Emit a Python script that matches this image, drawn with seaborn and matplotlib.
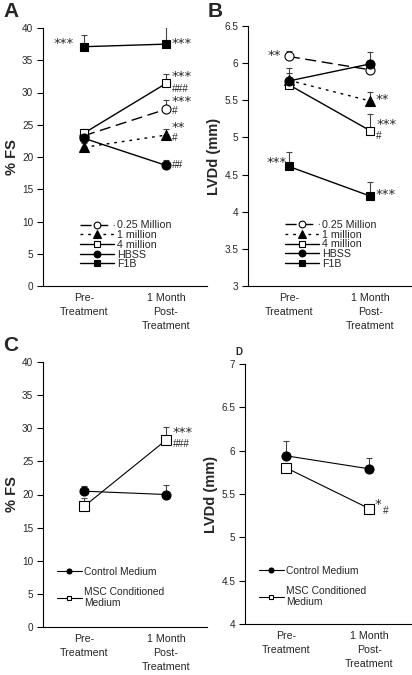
import matplotlib
matplotlib.use("Agg")
import matplotlib.pyplot as plt
import seaborn as sns
import numpy as np

sns.set_style("white")
plt.rcParams['font.family'] = ['Liberation Sans', 'DejaVu Sans']

# ---------------- data ----------------
timepoints = ["Pre-\nTreatment", "1 Month\nPost-\nTreatment"]

# Panel A (% FS)
a_series = ["0.25 Million", "1 million", "4 million", "HBSS", "F1B"]
a_q25 = [23.3, 27.4]
a_q25_err = [0.8, 1.5]
a_m1 = [21.5, 23.4]
a_m1_err = [0.6, 0.9]
a_m4 = [23.7, 31.4]
a_m4_err = [0.7, 1.5]
a_hbss = [22.9, 18.7]
a_hbss_err = [0.6, 0.9]
a_f1b = [37.1, 37.5]
a_f1b_err = [1.8, 2.6]
# (text, point index, value, dx px, dy px)
a_ann = [("***", 0, 37.1, -10, 3), ("***", 1, 37.5, 6, 1),
         ("***", 1, 31.4, 6, 6.5), ("###", 1, 31.4, 6, -5.5),
         ("***", 1, 27.4, 6, 8), ("#", 1, 27.4, 6, -2),
         ("**", 1, 23.4, 6, 8), ("#", 1, 23.4, 6, -3),
         ("##", 1, 18.7, 6, 0)]

# Panel B (LVDd mm)
b_q25 = [6.09, 5.91]
b_q25_err = [0.07, 0.05]
b_m1 = [5.77, 5.49]
b_m1_err = [0.1, 0.12]
b_m4 = [5.71, 5.09]
b_m4_err = [0.08, 0.22]
b_hbss = [5.76, 5.99]
b_hbss_err = [0.17, 0.16]
b_f1b = [4.61, 4.21]
b_f1b_err = [0.19, 0.19]
b_ann = [("**", 0, 6.09, -8, 1), ("**", 1, 5.49, 5, 2),
         ("***", 1, 5.09, 6, 6), ("#", 1, 5.09, 6, -5),
         ("***", 0, 4.61, -2, 4), ("***", 1, 4.21, 5, 2)]

# Panel C (% FS)
c_series = ["Control Medium", "MSC Conditioned\nMedium"]
c_ctrl = [20.5, 20.0]
c_ctrl_err = [0.8, 1.4]
c_msc = [18.2, 28.2]
c_msc_err = [1.3, 2.0]
c_ann = [("***", 1, 28.2, 7, 8), ("###", 1, 28.2, 7, -4)]

# Panel D (LVDd mm)
d_ctrl = [5.94, 5.79]
d_ctrl_err = [0.17, 0.12]
d_msc = [5.80, 5.33]
d_msc_err = [0.06, 0.0]
d_ann = [("*", 1, 5.33, 5, 4), ("#", 1, 5.33, 13, -2)]

# ---------------- figure ----------------
W, H = 412, 675
fig = plt.figure(figsize=(W / 100, H / 100), dpi=100)

def px_axes(l, t, r, b):
    return fig.add_axes([l / W, 1 - b / H, (r - l) / W, (b - t) / H])

axA = px_axes(43, 28, 207, 286)
axB = px_axes(248, 26, 411, 286)
axC = px_axes(43, 362, 207, 627)
axD = px_axes(245, 364, 411, 624)

YTICK_FS = 7.2
XTICK_FS = 7.7
PX = 72 / 100  # points per pixel

def draw_series(ax, vals, errs, label, marker, filled, ls, ms):
    x = np.arange(len(vals))
    ax.errorbar(x, vals, yerr=[np.zeros(len(errs)), errs], fmt='none',
                ecolor='#444444', elinewidth=0.8, capsize=2.3, capthick=0.8, zorder=2)
    sns.lineplot(x=timepoints, y=vals, ax=ax, color='black', linewidth=1.0,
                 linestyle=ls, marker=marker, markersize=ms,
                 markerfacecolor='black' if filled else 'white',
                 markeredgecolor='black', markeredgewidth=0.8,
                 label=label, zorder=3, sort=False)

def style_axes(ax, ylim, yticks, ylabel):
    ax.set_xlim(-0.5, 1.5)
    ax.set_ylim(*ylim)
    ax.set_yticks(yticks)
    ax.set_yticklabels([f"{v:g}" for v in yticks], fontsize=YTICK_FS)
    ax.set_xticks([0, 1])
    ax.set_xticklabels(timepoints, fontsize=XTICK_FS, linespacing=1.5, va='top')
    ax.set_xticks([0.5, 1.5], minor=True)
    ax.tick_params(axis='x', which='major', length=0, pad=5)
    ax.tick_params(axis='x', which='minor', length=4, width=0.8, direction='out', color='black')
    ax.tick_params(axis='y', length=4, width=0.8, direction='out', color='black', pad=3, left=True)
    for s in ['top', 'right']:
        ax.spines[s].set_visible(False)
    for s in ['left', 'bottom']:
        ax.spines[s].set_color('black')
        ax.spines[s].set_linewidth(0.8)
    ax.set_xlabel('')
    ax.set_ylabel(ylabel, fontsize=10.5, fontweight='bold', labelpad=2)

def annotate(ax, anns):
    for txt, xi, yv, dx, dy in anns:
        star = '*' in txt
        ax.annotate(txt, xy=(xi, yv), xytext=(dx * PX, dy * PX),
                    textcoords='offset points',
                    ha='left' if dx > 0 else 'right', va='center',
                    fontsize=9.5 if star else 7.3,
                    family=['DejaVu Sans'] if star else ['Liberation Sans'],
                    zorder=5)

def legend_5(ax):
    ax.legend(loc='upper left', bbox_to_anchor=(0.226, 0.254), frameon=False,
              fontsize=7.7, handlelength=3.2, handletextpad=0.3,
              labelspacing=-0.03, markerscale=0.75, borderpad=0, borderaxespad=0)

def legend_2(ax, y):
    ax.legend(loc='upper left', bbox_to_anchor=(0.085, y), frameon=False,
              fontsize=7.4, handlelength=2.4, handletextpad=0.2,
              labelspacing=0.95, markerscale=0.55, borderpad=0, borderaxespad=0)

# Panel A
draw_series(axA, a_q25, a_q25_err, a_series[0], 'o', False, (0, (8, 4)), 6.5)
draw_series(axA, a_m1, a_m1_err, a_series[1], '^', True, (0, (2, 3.5)), 7)
draw_series(axA, a_m4, a_m4_err, a_series[2], 's', False, '-', 6.3)
draw_series(axA, a_hbss, a_hbss_err, a_series[3], 'o', True, '-', 6.5)
draw_series(axA, a_f1b, a_f1b_err, a_series[4], 's', True, '-', 6.3)
style_axes(axA, (0, 40), list(range(0, 41, 5)), "% FS")
annotate(axA, a_ann)
legend_5(axA)

# Panel B
draw_series(axB, b_q25, b_q25_err, a_series[0], 'o', False, (0, (8, 4)), 6.5)
draw_series(axB, b_m1, b_m1_err, a_series[1], '^', True, (0, (2, 3.5)), 7)
draw_series(axB, b_m4, b_m4_err, a_series[2], 's', False, '-', 6.3)
draw_series(axB, b_hbss, b_hbss_err, a_series[3], 'o', True, '-', 6.5)
draw_series(axB, b_f1b, b_f1b_err, a_series[4], 's', True, '-', 6.3)
style_axes(axB, (3, 6.5), [3, 3.5, 4, 4.5, 5, 5.5, 6, 6.5], "LVDd (mm)")
annotate(axB, b_ann)
legend_5(axB)

# Panel C
draw_series(axC, c_ctrl, c_ctrl_err, c_series[0], 'o', True, '-', 6.5)
draw_series(axC, c_msc, c_msc_err, c_series[1], 's', False, '-', 6.5)
for l in axC.lines:
    l.set_linewidth(0.8)
style_axes(axC, (0, 40), list(range(0, 41, 5)), "% FS")
annotate(axC, c_ann)
legend_2(axC, 0.227)

# Panel D
draw_series(axD, d_ctrl, d_ctrl_err, c_series[0], 'o', True, '-', 6.5)
draw_series(axD, d_msc, d_msc_err, c_series[1], 's', False, '-', 6.5)
for l in axD.lines:
    l.set_linewidth(0.8)
style_axes(axD, (4, 7), [4, 4.5, 5, 5.5, 6, 6.5, 7], "LVDd (mm)")
annotate(axD, d_ann)
legend_2(axD, 0.223)

# panel letters
fig.text(3 / W, 1 - 2 / H, "A", fontsize=15, fontweight='bold', va='top', ha='left')
fig.text(208 / W, 1 - 2 / H, "B", fontsize=15, fontweight='bold', va='top', ha='left')
fig.text(3 / W, 1 - 336 / H, "C", fontsize=15, fontweight='bold', va='top', ha='left')
fig.text(235 / W, 1 - 347 / H, "D", fontsize=7, fontweight='bold', va='top', ha='left')

fig.savefig("out.png", dpi=100, facecolor='white')
